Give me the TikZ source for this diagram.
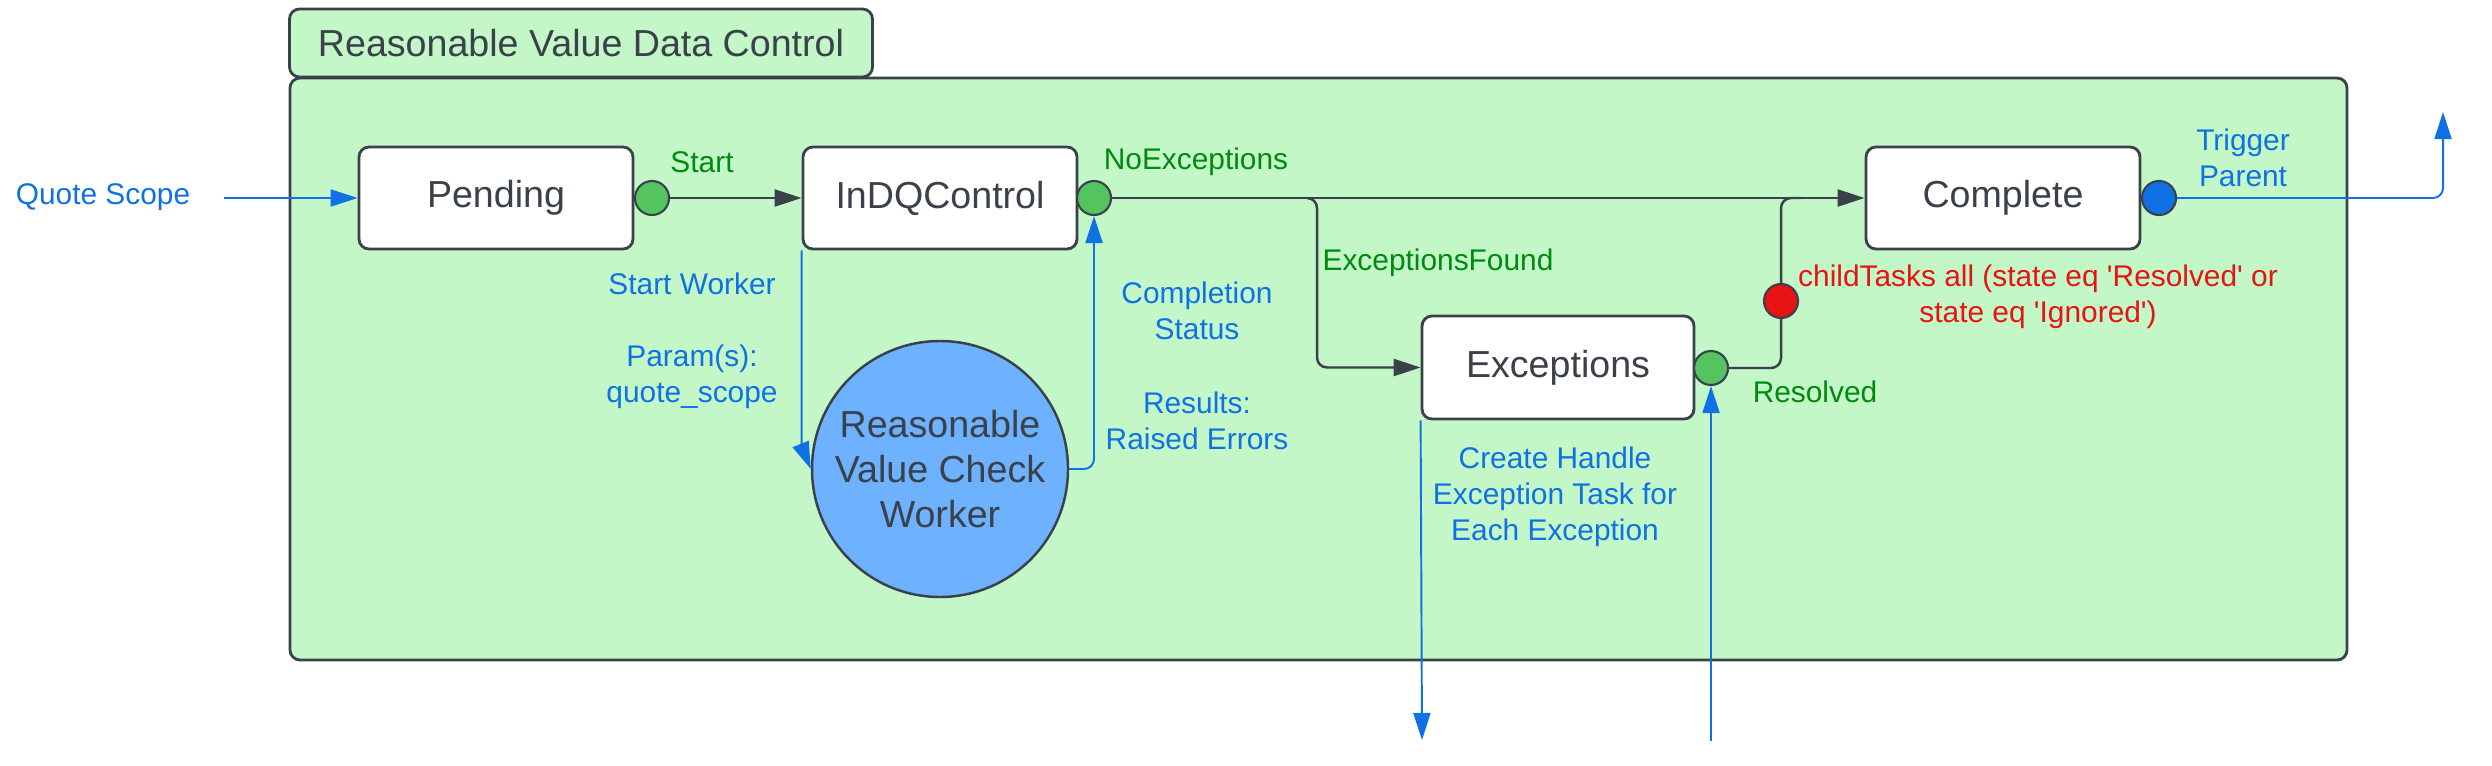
\documentclass[tikz,border=0pt]{standalone}
\usepackage{fontspec}
\setmainfont{Liberation Sans}
\usetikzlibrary{arrows.meta}
\definecolor{bggreen}{HTML}{C3F7C8}
\definecolor{edge}{HTML}{3A414A}
\definecolor{dotgreen}{HTML}{54C45E}
\definecolor{lblue}{HTML}{1071E5}
\definecolor{wblue}{HTML}{6DB1FF}
\definecolor{lgreen}{HTML}{008A0E}
\definecolor{lred}{HTML}{E81313}
\begin{document}
\begin{tikzpicture}[>={Triangle[length=0.27cm,width=0.17cm]},
state/.style={draw=edge,line width=0.8pt,fill=white,rounded corners=0.1cm,minimum width=2.74cm,minimum height=1.02cm,text=edge,font=\fontsize{10.7}{12.8}\selectfont},
dot/.style={circle,draw=edge,line width=0.6pt,inner sep=0pt,minimum size=0.34cm},
lbl/.style={align=center,inner sep=0pt,font=\fontsize{8.5}{10.2}\selectfont},
dline/.style={draw=edge,line width=0.7pt},
bline/.style={draw=lblue,line width=0.55pt}]
\useasboundingbox(0,0)rectangle(24.92,-7.65);
% container and tab
\node[draw=edge,line width=0.8pt,fill=bggreen,rounded corners=0.1cm,minimum width=20.57cm,minimum height=5.82cm](frame)at(13.185,-3.69){};
\node[draw=edge,line width=0.8pt,fill=bggreen,rounded corners=0.1cm,minimum width=5.83cm,minimum height=0.68cm,text=edge,font=\fontsize{10.7}{12.8}\selectfont](title)at(5.81,-0.43){Reasonable Value Data Control};
% states
\node[state](pend)at(4.96,-1.98){Pending};
\node[state](indq)at(9.40,-1.98){InDQControl};
\node[state](comp)at(20.03,-1.98){Complete};
\node[state,minimum width=2.72cm,minimum height=1.03cm](exc)at(15.58,-3.675){Exceptions};
\node[circle,draw=edge,line width=0.7pt,fill=wblue,inner sep=0pt,minimum size=2.56cm,align=center,text=edge,font=\fontsize{10.7}{12.8}\selectfont](wrk)at(9.40,-4.69){Reasonable\\Value Check\\Worker};
% exits
\node[dot,fill=dotgreen](d1)at(6.52,-1.98){};
\node[dot,fill=dotgreen](d2)at(10.94,-1.98){};
\node[dot,fill=lblue](d3)at(21.59,-1.98){};
\node[dot,fill=dotgreen](d4)at(17.11,-3.68){};
\node[dot,fill=lred](d5)at(17.81,-3.01){};
\coordinate(qin)at(2.24,-1.98);
\coordinate(br)at(13.17,-1.98);
\coordinate(up)at(24.43,-1.12);
\coordinate(out)at(14.22,-7.40);
\coordinate(in)at(17.11,-7.41);
% transitions
\draw[bline,->](qin)--(pend);
\draw[dline,->](d1)--(indq);
\draw[dline,->](d2)--(comp);
\draw[dline,->,rounded corners=0.1cm]([xshift=-0.1cm]br)--(br)|-(exc);
\draw[dline,rounded corners=0.1cm](d4)-|(d5);
\draw[dline,rounded corners=0.1cm](d5)|-([xshift=0.2cm]br-|d5);
\draw[bline,->,rounded corners=0.1cm](d3)-|(up);
\draw[bline,->](indq.south west)--++(0,-1.96)--(wrk.west);
\draw[bline,->,rounded corners=0.1cm](wrk.east)-|(d2);
\draw[bline,->](exc.south west)--(out);
\draw[bline,->](in)--(d4);
% labels
\node[lbl,text=lblue](qs)at(1.03,-1.97){Quote Scope};
\node[lbl,text=lgreen](l1)at(7.02,-1.62){Start};
\node[lbl,text=lgreen](l2)at(11.96,-1.62){NoExceptions};
\node[lbl,text=lgreen](l3)at(14.38,-2.63){ExceptionsFound};
\node[lbl,text=lgreen](l4)at(18.15,-3.92){Resolved};
\node[lbl,text=lred](l5)at(20.38,-2.97){childTasks all (state eq \textquotesingle Resolved\textquotesingle\ or\\state eq \textquotesingle Ignored\textquotesingle)};
\node[lbl,text=lblue](l6)at(22.43,-1.58){Trigger\\Parent};
\node[lbl,text=lblue](l7)at(6.92,-2.84){Start Worker};
\node[lbl,text=lblue](l8)at(6.92,-3.765){Param(s):\\quote\_scope};
\node[lbl,text=lblue](l9)at(11.97,-3.11){Completion\\Status};
\node[lbl,text=lblue](l10)at(11.97,-4.21){Results:\\Raised Errors};
\node[lbl,text=lblue](l11)at(15.55,-4.97){Create Handle\\Exception Task for\\Each Exception};
\end{tikzpicture}
\end{document}
